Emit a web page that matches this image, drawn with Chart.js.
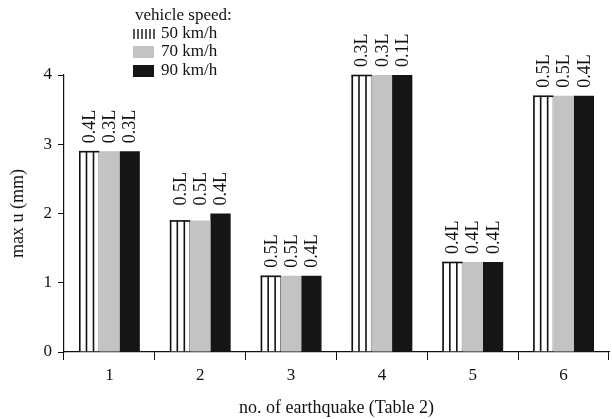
<!DOCTYPE html>
<html>
<head>
<meta charset="utf-8">
<script src="https://cdn.jsdelivr.net/npm/chart.js@4.4.1/dist/chart.umd.min.js"></script>
<style>
    html, body { margin: 0; padding: 0; background: #fff; }
    #wrap { width: 612px; height: 419px; }
</style>
</head>
<body>
<div id="wrap"><canvas id="chart" width="612" height="419"></canvas></div>
<script>
// 地震编号
const quakes = ['1', '2', '3', '4', '5', '6'];
// 车速图例
const speeds = ['50 km/h', '70 km/h', '90 km/h'];
// max u (mm)
const u50 = [2.9, 1.9, 1.1, 4.0, 1.3, 3.7];
const u70 = [2.9, 1.9, 1.1, 4.0, 1.3, 3.7];
const u90 = [2.9, 2.0, 1.1, 4.0, 1.3, 3.7];
// 柱顶位置标注
const pos50 = ['0.4L', '0.5L', '0.5L', '0.3L', '0.4L', '0.5L'];
const pos70 = ['0.3L', '0.5L', '0.5L', '0.3L', '0.4L', '0.5L'];
const pos90 = ['0.3L', '0.4L', '0.4L', '0.1L', '0.4L', '0.4L'];
const yTicks = [0, 1, 2, 3, 4];

const SERIF = '"Liberation Serif", "DejaVu Serif", serif';

// 第一组柱子画竖条纹
const stripePlugin = {
    id: 'stripes',
    afterDatasetDraw(chart, args) {
        if (args.index !== 0) return;
        const ctx = chart.ctx;
        ctx.save();
        ctx.strokeStyle = '#111';
        ctx.lineWidth = 1.6;
        args.meta.data.forEach(bar => {
            const left = bar.x - bar.width / 2;
            [0.8, 7.5, 14.5].forEach(dx => {
                ctx.beginPath();
                ctx.moveTo(left + dx, bar.y);
                ctx.lineTo(left + dx, bar.base);
                ctx.stroke();
            });
            ctx.beginPath();
            ctx.moveTo(left, bar.y + 0.5);
            ctx.lineTo(left + bar.width, bar.y + 0.5);
            ctx.stroke();
        });
        ctx.restore();
    }
};

// 竖排标注 + 图例
const labelPlugin = {
    id: 'labels',
    afterDatasetsDraw(chart) {
        const ctx = chart.ctx;
        const yScale = chart.scales.y;
        const tags = [pos50, pos70, pos90];
        ctx.save();
        ctx.fillStyle = '#111';
        ctx.font = '18px ' + SERIF;
        ctx.textAlign = 'left';
        ctx.textBaseline = 'middle';
        quakes.forEach((q, j) => {
            const top = Math.max(u50[j], u70[j], u90[j]);
            const y = yScale.getPixelForValue(top) - 8;
            tags.forEach((t, i) => {
                const bar = chart.getDatasetMeta(i).data[j];
                ctx.save();
                ctx.translate(bar.x + 1, y);
                ctx.rotate(-Math.PI / 2);
                ctx.fillText(t[j], 0, 0);
                ctx.restore();
            });
        });

        // 图例
        ctx.font = '17px ' + SERIF;
        ctx.fillText('vehicle speed:', 135, 16);
        const rows = [34, 52, 71];
        chart.data.datasets.forEach((ds, i) => {
            const y = rows[i];
            if (i === 0) {
                ctx.strokeStyle = '#111';
                ctx.lineWidth = 1.4;
                for (let x = 134; x <= 154; x += 4) {
                    ctx.beginPath();
                    ctx.moveTo(x, y - 5);
                    ctx.lineTo(x, y + 5);
                    ctx.stroke();
                }
            } else {
                ctx.fillStyle = ds.backgroundColor;
                ctx.fillRect(133, y - 6, 21, 12);
            }
            ctx.fillStyle = '#111';
            ctx.fillText(ds.label, 161, y);
        });
        ctx.restore();
    }
};

new Chart(document.getElementById('chart'), {
    type: 'bar',
    data: {
        labels: quakes,
        datasets: [
            { label: speeds[0], data: u50, backgroundColor: '#ffffff', borderColor: '#777', borderWidth: 1 },
            { label: speeds[1], data: u70, backgroundColor: '#c2c3c2', borderWidth: 0 },
            { label: speeds[2], data: u90, backgroundColor: '#151515', borderWidth: 0 }
        ]
    },
    options: {
        responsive: false,
        animation: false,
        categoryPercentage: 0.67,
        barPercentage: 1.0,
        layout: { padding: { top: 75, right: 3, left: 0, bottom: 0 } },
        plugins: {
            legend: { display: false },
            tooltip: { enabled: false }
        },
        scales: {
            x: {
                grid: { offset: true, drawOnChartArea: false, tickLength: 8, color: '#111', lineWidth: 1 },
                border: { color: '#111', width: 1.2 },
                ticks: { color: '#111', font: { family: SERIF, size: 17 }, padding: 5 },
                title: {
                    display: true,
                    text: 'no. of earthquake (Table 2)',
                    color: '#111',
                    font: { family: SERIF, size: 18 },
                    padding: { top: 4, bottom: 0 }
                },
                afterFit(scale) { scale.height = 67; }
            },
            y: {
                min: 0,
                max: 4,
                afterBuildTicks(scale) { scale.ticks = yTicks.map(v => ({ value: v })); },
                grid: { drawOnChartArea: false, tickLength: 6, color: '#111', lineWidth: 1 },
                border: { color: '#111', width: 1.2 },
                ticks: { color: '#111', font: { family: SERIF, size: 17 }, padding: 6 },
                title: {
                    display: true,
                    text: 'max u (mm)',
                    color: '#111',
                    font: { family: SERIF, size: 18 },
                    padding: { top: 7, bottom: 4 }
                },
                afterFit(scale) { scale.width = 64; }
            }
        }
    },
    plugins: [stripePlugin, labelPlugin]
});
</script>
</body>
</html>
